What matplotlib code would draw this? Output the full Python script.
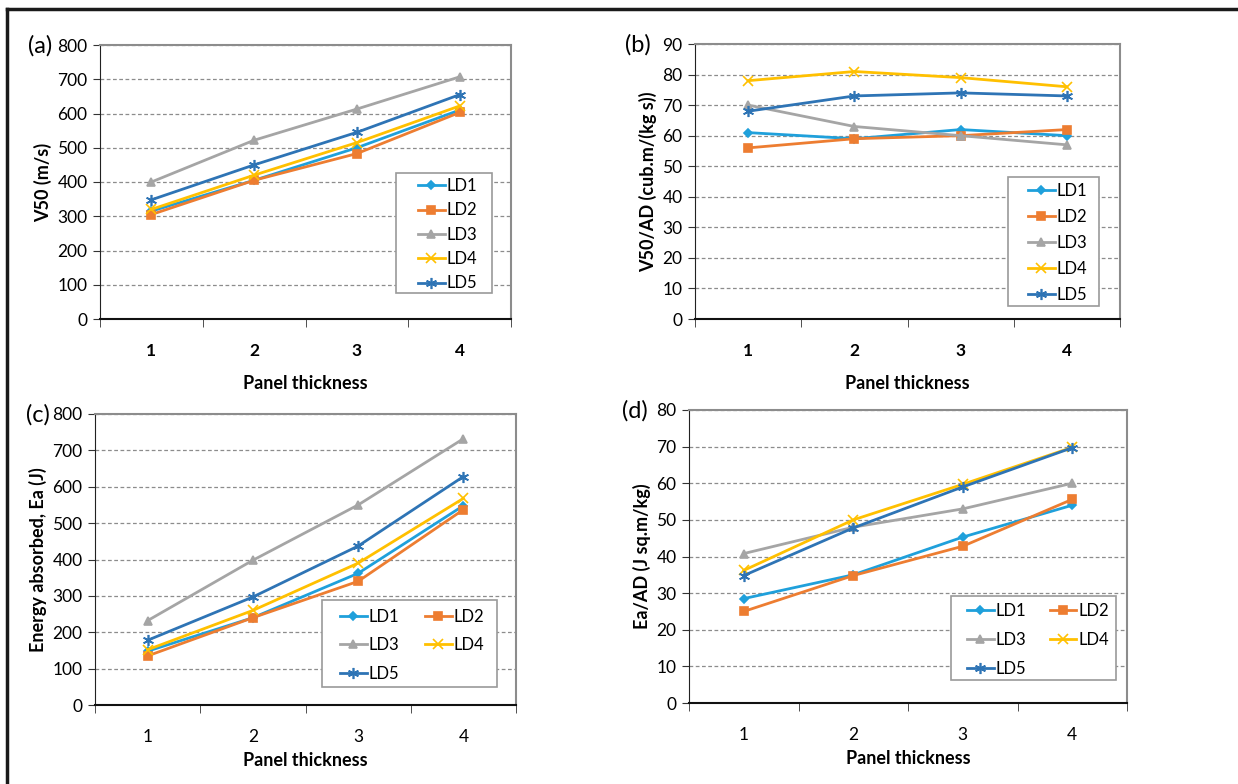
import matplotlib.pyplot as plt
from matplotlib.lines import Line2D
from matplotlib.patches import Rectangle

plt.rcParams['font.family'] = ['Lato', 'DejaVu Sans']

# Panel thickness categories
thickness = [1, 2, 3, 4]
series_names = ["LD1", "LD2", "LD3", "LD4", "LD5"]

# (a) V50 (m/s)
v50_ld1 = [315, 405, 500, 610]
v50_ld2 = [305, 405, 483, 603]
v50_ld3 = [400, 522, 613, 707]
v50_ld4 = [320, 420, 515, 622]
v50_ld5 = [348, 450, 545, 655]

# (b) V50/AD
v50ad_ld1 = [61, 59, 62, 60]
v50ad_ld2 = [56, 59, 60, 62]
v50ad_ld3 = [70, 63, 60, 57]
v50ad_ld4 = [78, 81, 79, 76]
v50ad_ld5 = [68, 73, 74, 73]

# (c) Energy absorbed (J)
ea_ld1 = [148, 240, 362, 548]
ea_ld2 = [135, 240, 340, 537]
ea_ld3 = [232, 398, 550, 732]
ea_ld4 = [152, 260, 390, 568]
ea_ld5 = [178, 297, 437, 628]

# (d) Ea/AD
eaad_ld1 = [28.5, 35.0, 45.3, 54.0]
eaad_ld2 = [25.0, 34.8, 42.8, 55.6]
eaad_ld3 = [40.8, 48.0, 53.0, 60.0]
eaad_ld4 = [36.2, 50.0, 59.7, 69.8]
eaad_ld5 = [34.8, 47.8, 59.0, 69.7]

colors = ["#1FA0DB", "#ED7D31", "#A5A5A5", "#FFC000", "#2E74B5"]
markers = ["D", "s", "^", "x", (6, 2, 0)]
msizes = [4.5, 6, 6, 7, 8]

W, H = 1238, 784
fig = plt.figure(figsize=(W / 100, H / 100), dpi=100)
legends = []


def px(x, y):
    return x / W, 1 - y / H


def draw_panel(box, data, ymax, ystep, ylabel, letter, letter_xy,
               leg_box, leg_anchor, ncol, leg_spacing, colsp,
               bold_xticks, labelpad):
    x0, y0, x1, y1 = box
    ax = fig.add_axes([x0 / W, 1 - y1 / H, (x1 - x0) / W, (y1 - y0) / H])
    handles = []
    for name, vals, c, m, ms in zip(series_names, data, colors, markers, msizes):
        h, = ax.plot(thickness, vals, color=c, lw=2, marker=m, ms=ms,
                     mew=1.2, label=name, zorder=3)
        handles.append(h)
    ax.set_xlim(0.5, 4.5)
    ax.set_ylim(0, ymax)
    ax.set_yticks(range(0, ymax + 1, ystep))
    ax.set_xticks(thickness)
    ax.set_xticks([0.5, 1.5, 2.5, 3.5, 4.5], minor=True)
    ax.tick_params(axis="x", which="major", length=0, pad=17, labelsize=12.5)
    ax.tick_params(axis="x", which="minor", length=6, direction="out", color="#333333")
    ax.tick_params(axis="y", length=5, direction="out", labelsize=12.5,
                   color="#333333", pad=4)
    if bold_xticks:
        for t in ax.get_xticklabels():
            t.set_fontweight("bold")
    ax.grid(axis="y", color="#8C8C8C", ls=(0, (3, 2)), lw=0.9)
    ax.set_axisbelow(True)
    for s in ["top", "right"]:
        ax.spines[s].set_color("#8C8C8C")
        ax.spines[s].set_linewidth(1.5)
    ax.spines["left"].set_color("#222222")
    ax.spines["bottom"].set_color("#111111")
    ax.spines["bottom"].set_linewidth(1.5)
    ax.set_ylabel(ylabel, fontsize=13, fontweight="bold")
    ax.set_xlabel("Panel thickness", fontsize=13, fontweight="bold",
                  labelpad=labelpad)
    fig.text(*px(*letter_xy), letter, fontsize=17, ha="left", va="center")

    # legend frame drawn separately so its padding can match the original
    lx0, ly0, lx1, ly1 = leg_box
    ax.add_patch(Rectangle(px(lx0, ly1), (lx1 - lx0) / W, (ly1 - ly0) / H,
                           transform=fig.transFigure, facecolor="white",
                           edgecolor="#9A9A9A", lw=1.2, zorder=4, clip_on=False))
    if ncol == 2:
        order = [0, 2, 4, 1, 3]
    else:
        order = [0, 1, 2, 3, 4]
    leg = ax.legend([handles[i] for i in order], [series_names[i] for i in order],
                    loc="upper left", bbox_to_anchor=px(*leg_anchor),
                    bbox_transform=fig.transFigure, ncol=ncol, fontsize=12,
                    frameon=False, handlelength=1.6, handletextpad=0.12,
                    labelspacing=leg_spacing, columnspacing=colsp,
                    borderpad=0, borderaxespad=0)
    leg.set_zorder(5)
    legends.append((leg, leg_anchor))
    return ax


draw_panel((100, 45, 511, 319),
           [v50_ld1, v50_ld2, v50_ld3, v50_ld4, v50_ld5], 800, 100,
           "V50 (m/s)", "(a)", (28, 46),
           (396, 173, 492, 293), (418, 178), 1, 0.5, 0, True, 12)

draw_panel((695, 44, 1120, 319),
           [v50ad_ld1, v50ad_ld2, v50ad_ld3, v50ad_ld4, v50ad_ld5], 90, 10,
           "V50/AD (cub.m/(kg s))", "(b)", (625, 45),
           (1008, 177, 1099, 306), (1028, 183), 1, 0.6, 0, True, 12)

draw_panel((95, 414, 516, 705),
           [ea_ld1, ea_ld2, ea_ld3, ea_ld4, ea_ld5], 800, 100,
           "Energy absorbed, Ea (J)", "(c)", (26, 415),
           (322, 600, 497, 687), (340, 609), 2, 0.74, 1.55, False, 5)

draw_panel((689, 410, 1127, 703),
           [eaad_ld1, eaad_ld2, eaad_ld3, eaad_ld4, eaad_ld5], 80, 10,
           "Ea/AD (J sq.m/kg)", "(d)", (622, 411),
           (951, 596, 1116, 680), (967, 603), 2, 0.77, 1.4, False, 5)

# nudge each legend so its top-left lands on the wanted pixel
fig.canvas.draw()
for leg, (ax_px, ay_px) in legends:
    ext = leg.get_window_extent()
    dx = ax_px - ext.x0
    dy = (H - ay_px) - ext.y1
    leg.set_bbox_to_anchor(((ax_px + dx) / W, (H - ay_px + dy) / H),
                           transform=fig.transFigure)

# outer frame (top and left edges)
fig.add_artist(Line2D([7 / W, 1], [1 - 8.5 / H, 1 - 8.5 / H],
                      color="#1A1A1A", lw=2.5, transform=fig.transFigure))
fig.add_artist(Line2D([7 / W, 7 / W], [0, 1 - 8.5 / H],
                      color="#1A1A1A", lw=2.5, transform=fig.transFigure))

fig.savefig("out.png", dpi=100)
